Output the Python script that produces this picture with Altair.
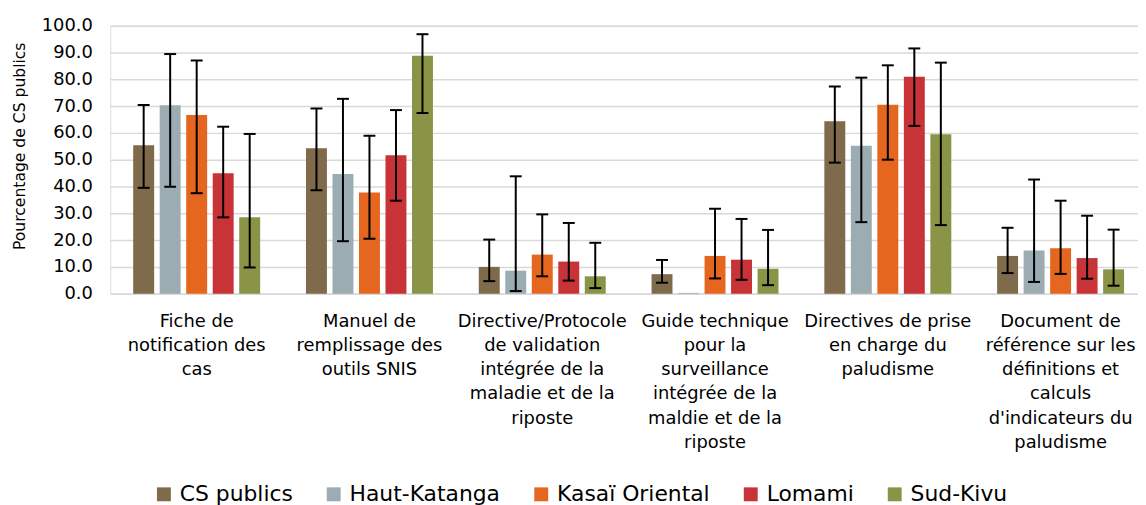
import altair as alt
import pandas as pd

categories = [
    "Fiche de|notification des|cas",
    "Manuel de|remplissage des|outils SNIS",
    "Directive/Protocole|de validation|intégrée de la|maladie et de la|riposte",
    "Guide technique|pour la|surveillance|intégrée de la|maldie et de la|riposte",
    "Directives de prise|en charge du|paludisme",
    "Document de|référence sur les|définitions et|calculs|d'indicateurs du|paludisme",
]
series = ["CS publics", "Haut-Katanga", "Kasaï Oriental", "Lomami", "Sud-Kivu"]
colors = ["#7F6A4B", "#9BACB2", "#E5661F", "#C73336", "#8A9446"]

cs_values = [55.4, 54.3, 10.0, 7.3, 64.3, 14.1]
cs_low = [39.5, 38.6, 4.7, 4.1, 48.9, 7.7]
cs_high = [70.4, 69.1, 20.2, 12.6, 77.3, 24.6]

hk_values = [70.3, 44.7, 8.6, 0.3, 55.2, 16.1]
hk_low = [39.9, 19.6, 1.0, None, 26.7, 4.4]
hk_high = [89.4, 72.7, 43.8, None, 80.6, 42.6]

ko_values = [66.7, 37.8, 14.6, 14.1, 70.5, 17.0]
ko_low = [37.5, 20.5, 6.5, 5.7, 50.0, 7.4]
ko_high = [87.0, 58.9, 29.6, 31.7, 85.2, 34.7]

lo_values = [44.9, 51.7, 12.0, 12.7, 80.9, 13.3]
lo_low = [28.5, 34.7, 4.9, 5.2, 62.6, 5.6]
lo_high = [62.3, 68.5, 26.4, 27.9, 91.5, 29.1]

sk_values = [28.5, 88.8, 6.5, 9.3, 59.5, 9.1]
sk_low = [9.8, 67.4, 2.1, 3.2, 25.6, 3.0]
sk_high = [59.6, 96.8, 19.0, 23.8, 86.2, 23.9]

y_ticks = [0, 10, 20, 30, 40, 50, 60, 70, 80, 90, 100]

all_values = [cs_values, hk_values, ko_values, lo_values, sk_values]
all_low = [cs_low, hk_low, ko_low, lo_low, sk_low]
all_high = [cs_high, hk_high, ko_high, lo_high, sk_high]

rows = []
for s, vals, lows, highs in zip(series, all_values, all_low, all_high):
    for c, v, lo, hi in zip(categories, vals, lows, highs):
        rows.append({"category": c, "series": s, "value": v, "low": lo, "high": hi})
df = pd.DataFrame(rows)
err_df = df.dropna(subset=["low", "high"])

FONT = "DejaVu Sans"

x_scale = alt.Scale(paddingInner=0.233, paddingOuter=0.0905, align=0.644)
xoff_scale = alt.Scale(paddingInner=0.21, paddingOuter=0.105)
y_scale = alt.Scale(domain=[0, 100], nice=False)

x_axis = alt.Axis(
    title=None,
    labelExpr="split(datum.label, '|')",
    labelFont=FONT,
    labelFontSize=18,
    labelLineHeight=24.3,
    labelColor="black",
    labelAngle=0,
    labelPadding=19,
    labelLimit=0,
    labelOverlap=False,
    ticks=False,
    domainColor="#D9D9D9",
    domainWidth=1.5,
    grid=False,
)

y_axis = alt.Axis(
    title="Pourcentage de CS publics",
    values=y_ticks,
    format=".1f",
    labelFont=FONT,
    labelFontSize=18,
    labelColor="black",
    labelPadding=18,
    labelOverlap=False,
    ticks=False,
    domain=False,
    grid=True,
    gridColor="#D9D9D9",
    gridWidth=1.5,
    titleFont=FONT,
    titleFontSize=15.7,
    titleFontWeight="normal",
    titleColor="black",
    titleX=-86,
    titleY=121,
    titleBaseline="alphabetic",
)

x_enc = alt.X("category:N", sort=categories, scale=x_scale, axis=x_axis)
xoff_enc = alt.XOffset("series:N", sort=series, scale=xoff_scale)

bars = alt.Chart(df).mark_bar().encode(
    x=x_enc,
    xOffset=xoff_enc,
    y=alt.Y("value:Q", scale=y_scale, axis=y_axis),
    color=alt.Color(
        "series:N",
        sort=series,
        scale=alt.Scale(domain=series, range=colors),
        legend=alt.Legend(
            title=None,
            orient="none",
            legendX=43,
            legendY=461,
            direction="horizontal",
            symbolType="square",
            symbolSize=196,
            symbolStrokeWidth=0,
            symbolOpacity=1,
            labelFont=FONT,
            labelFontSize=22,
            labelColor="black",
            labelOffset=5,
            columnPadding=30,
        ),
    ),
)

rules = alt.Chart(err_df).mark_rule(color="black", strokeWidth=2).encode(
    x=x_enc,
    xOffset=xoff_enc,
    y=alt.Y("low:Q", scale=y_scale, axis=y_axis),
    y2="high:Q",
)

caps_low = alt.Chart(err_df).mark_tick(color="black", thickness=2, size=12, opacity=1).encode(
    x=x_enc,
    xOffset=xoff_enc,
    y=alt.Y("low:Q", scale=y_scale, axis=y_axis),
)
caps_high = alt.Chart(err_df).mark_tick(color="black", thickness=2, size=12, opacity=1).encode(
    x=x_enc,
    xOffset=xoff_enc,
    y=alt.Y("high:Q", scale=y_scale, axis=y_axis),
)

chart = (
    alt.layer(bars, rules, caps_low, caps_high)
    .properties(
        width=1035,
        height=270,
        padding={"left": 103, "top": 16, "right": 0, "bottom": 211},
        autosize=alt.AutoSizeParams(type="none"),
    )
    .configure_view(strokeWidth=0)
    .configure(background="white")
)

chart.save("out.html", embed_options={"renderer": "svg", "actions": False})
